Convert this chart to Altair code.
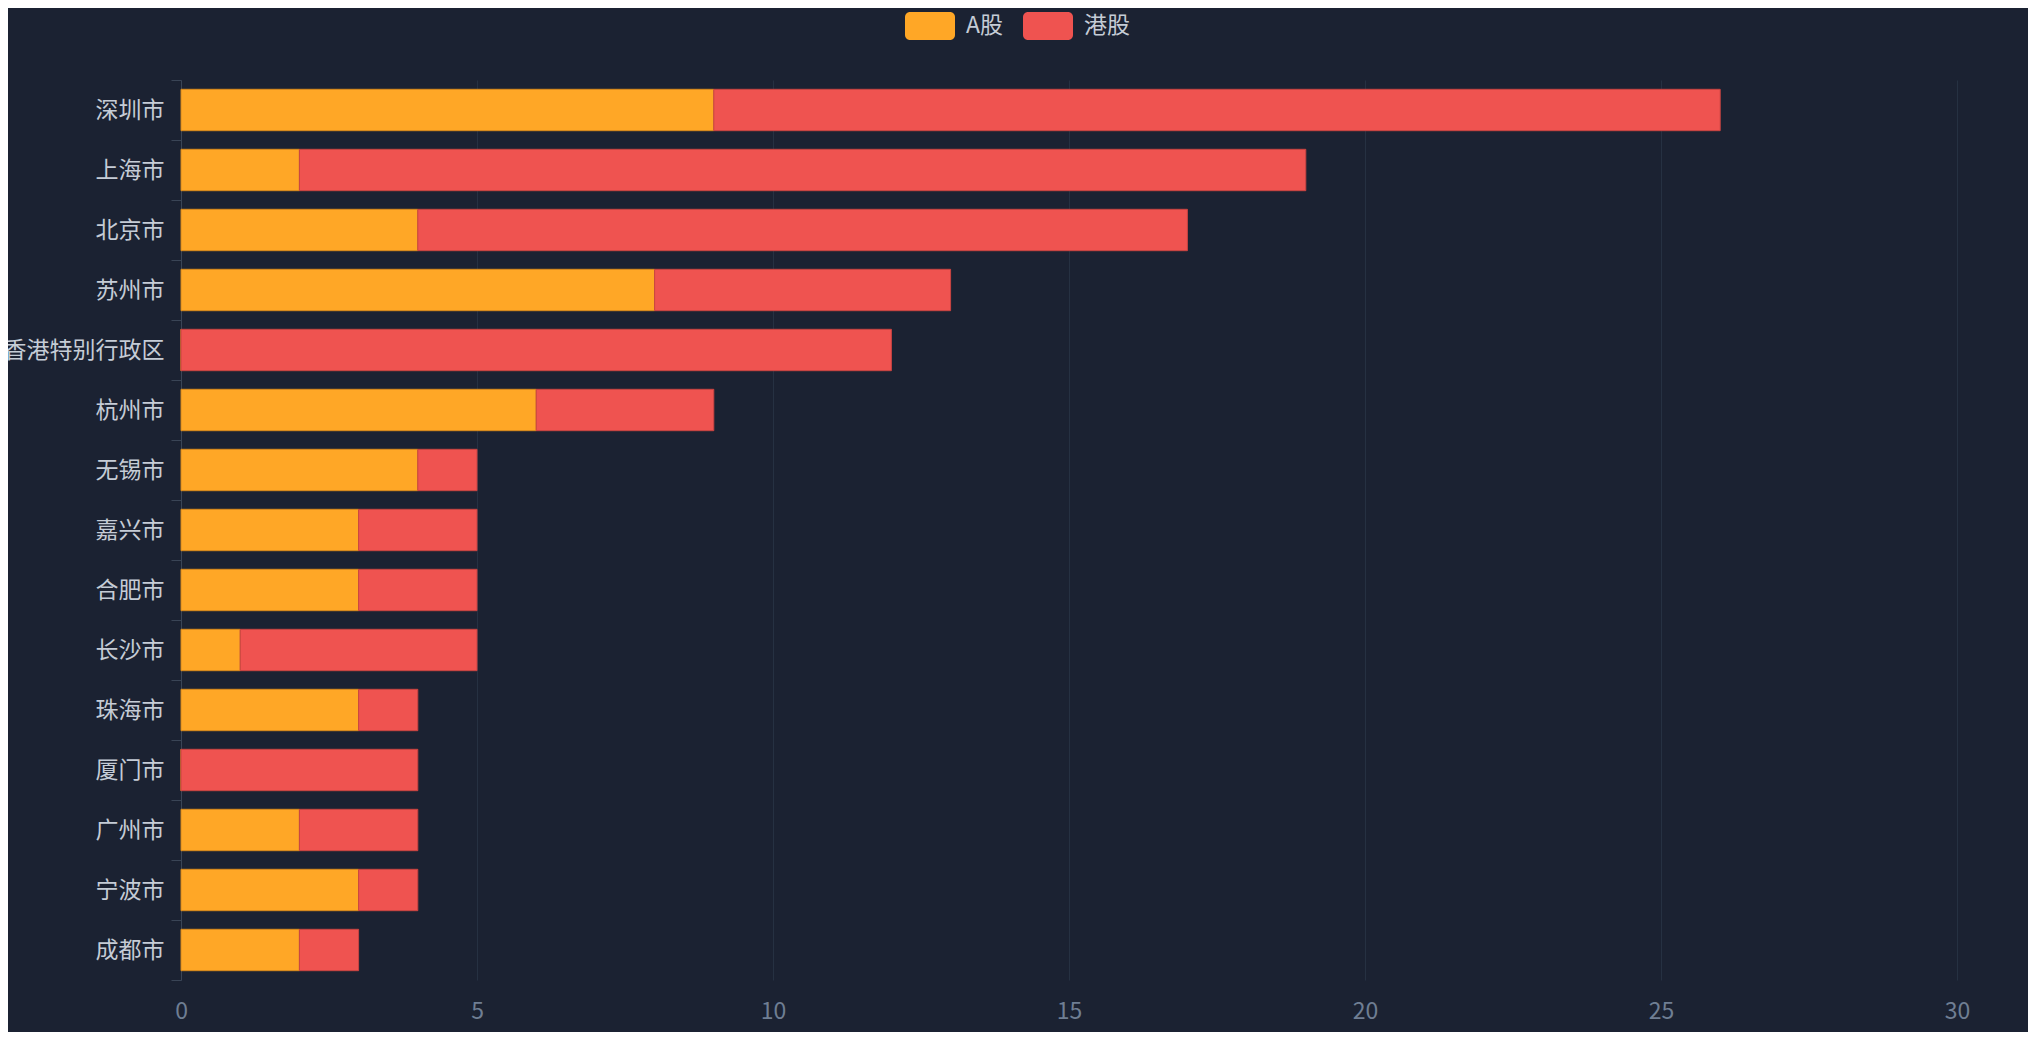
import altair as alt
import pandas as pd

cities = ["深圳市", "上海市", "北京市", "苏州市", "香港特别行政区", "杭州市", "无锡市",
          "嘉兴市", "合肥市", "长沙市", "珠海市", "厦门市", "广州市", "宁波市", "成都市"]
a_share = [9, 2, 4, 8, 0, 6, 4, 3, 3, 1, 3, 0, 2, 3, 2]
hk_share = [17, 17, 13, 5, 12, 3, 1, 2, 2, 4, 1, 4, 2, 1, 1]
series = ["A股", "港股"]
fill_colors = ["#FFA726", "#EF5350"]
stroke_colors = ["#D98A1C", "#C94442"]
x_ticks = [0, 5, 10, 15, 20, 25, 30]

rows = []
for c, a, h in zip(cities, a_share, hk_share):
    rows.append({"city": c, "type": series[0], "value": a, "idx": 0})
    rows.append({"city": c, "type": series[1], "value": h, "idx": 1})
df = pd.DataFrame(rows)

BG = "#1B2232"
FONT = "Noto Sans CJK SC"
legend_path = ("M-1.25,-0.875 L1.25,-0.875 A0.3125,0.3125 0 0 1 1.5625,-0.5625 "
               "L1.5625,0.5625 A0.3125,0.3125 0 0 1 1.25,0.875 L-1.25,0.875 "
               "A0.3125,0.3125 0 0 1 -1.5625,0.5625 L-1.5625,-0.5625 "
               "A0.3125,0.3125 0 0 1 -1.25,-0.875 Z")

chart = alt.Chart(df).mark_bar(strokeWidth=1, height={"band": 0.69}).encode(
    y=alt.Y("city:N", sort=cities, title=None,
            scale=alt.Scale(paddingInner=0, paddingOuter=0),
            axis=alt.Axis(tickBand="extent", tickSize=10, tickColor="#3A4556",
                          domainColor="#3A4556", domainWidth=1, labelPadding=7,
                          labelColor="#C5CCD6", labelFontSize=23, labelFont=FONT,
                          grid=False)),
    x=alt.X("value:Q", stack="zero", title=None,
            scale=alt.Scale(domain=[0, 30], nice=False),
            axis=alt.Axis(values=x_ticks, domain=False, ticks=False, grid=True,
                          gridColor="#263142", gridWidth=1, labelPadding=20,
                          labelFlush=False,
                          labelColor="#6F7E93", labelFontSize=23, labelFont=FONT)),
    color=alt.Color("type:N", scale=alt.Scale(domain=series, range=fill_colors),
                    legend=alt.Legend(orient="none", direction="horizontal", title=None,
                                      legendX=733, legendY=-70, padding=0,
                                      symbolType=legend_path, symbolSize=1024,
                                      symbolStrokeWidth=0, symbolOpacity=1,
                                      labelOffset=20, columnPadding=20,
                                      labelColor="#C5CCD6", labelFontSize=23,
                                      labelFont=FONT)),
    stroke=alt.Stroke("type:N", scale=alt.Scale(domain=series, range=stroke_colors),
                      legend=None),
    order=alt.Order("idx:Q"),
).properties(
    width=1776, height=900,
    background=BG,
    padding={"left": 173, "top": 72, "right": 71, "bottom": 52},
    autosize=alt.AutoSizeParams(type="none"),
).configure_view(stroke=None)

chart.save("out.html", embed_options={"renderer": "svg", "actions": False})
